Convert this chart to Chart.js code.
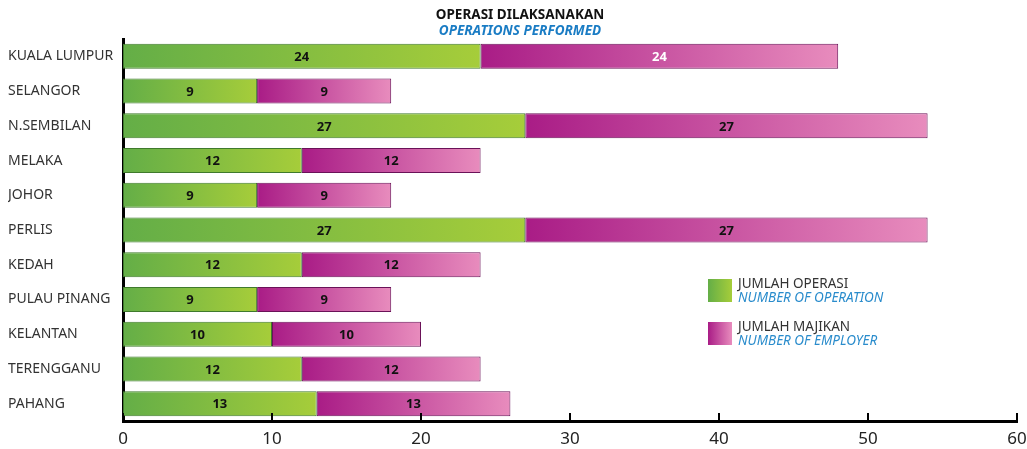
<!DOCTYPE html>
<html>
<head>
<meta charset="utf-8">
<script src="https://cdn.jsdelivr.net/npm/chart.js@4/dist/chart.umd.min.js"></script>
<style>
  html, body { margin: 0; padding: 0; background: #fff; }
  #wrap { width: 1027px; height: 449px; position: relative; }
</style>
</head>
<body>
<div id="wrap"><canvas id="opsChart"></canvas></div>
<script>
// Data
const states = ['KUALA LUMPUR', 'SELANGOR', 'N.SEMBILAN', 'MELAKA', 'JOHOR', 'PERLIS',
  'KEDAH', 'PULAU PINANG', 'KELANTAN', 'TERENGGANU', 'PAHANG'];
const operations = [24, 9, 27, 12, 9, 27, 12, 9, 10, 12, 13];
const employers = [24, 9, 27, 12, 9, 27, 12, 9, 10, 12, 13];
const xTicks = [0, 10, 20, 30, 40, 50, 60];

const FONT = '"Noto Sans", "DejaVu Sans", sans-serif';
const GREEN = ['#64ae47', '#a6cd3a'];
const PINK = ['#a91c86', '#e88cbd'];

// gradient per segment, left to right
function segGradient(c, colors) {
  const chart = c.chart;
  const xs = chart.scales.x;
  if (!xs || c.dataIndex === undefined || c.type !== 'data') return colors[0];
  const i = c.dataIndex;
  const start = c.datasetIndex === 0 ? 0 : operations[i];
  const end = start + c.dataset.data[i];
  const x0 = xs.getPixelForValue(start);
  const x1 = xs.getPixelForValue(end);
  if (!isFinite(x0) || !isFinite(x1) || x0 === x1) return colors[0];
  const g = chart.ctx.createLinearGradient(x0, 0, x1, 0);
  g.addColorStop(0, colors[0]);
  g.addColorStop(1, colors[1]);
  return g;
}

// title, legend, inward ticks, value labels
const decorPlugin = {
  id: 'decor',
  afterDraw(chart) {
    const ctx = chart.ctx;
    const area = chart.chartArea;
    const xs = chart.scales.x;
    ctx.save();

    // title
    ctx.textAlign = 'center';
    ctx.textBaseline = 'middle';
    ctx.fillStyle = '#111';
    ctx.font = 'bold 13.5px ' + FONT;
    ctx.fillText('OPERASI DILAKSANAKAN', 520, 15);
    ctx.fillStyle = '#1a7cc4';
    ctx.font = 'italic bold 13.5px ' + FONT;
    ctx.fillText('OPERATIONS PERFORMED', 520, 31);

    // inward tick marks
    ctx.strokeStyle = '#000';
    ctx.lineWidth = 2;
    xTicks.forEach(v => {
      const px = xs.getPixelForValue(v);
      ctx.beginPath();
      ctx.moveTo(px, area.bottom);
      ctx.lineTo(px, area.bottom - 8);
      ctx.stroke();
    });

    // value labels
    ctx.font = 'bold 13px ' + FONT;
    chart.data.datasets.forEach((ds, di) => {
      chart.getDatasetMeta(di).data.forEach((bar, i) => {
        const cx = (bar.x + bar.base) / 2;
        ctx.fillStyle = (di === 1 && i === 0) ? '#fff' : '#111';
        ctx.fillText(String(ds.data[i]), cx, bar.y + 1);
      });
    });

    // legend
    const items = [
      { y: 279, colors: GREEN, t1: 'JUMLAH OPERASI', t2: 'NUMBER OF OPERATION' },
      { y: 322, colors: PINK, t1: 'JUMLAH MAJIKAN', t2: 'NUMBER OF EMPLOYER' }
    ];
    items.forEach(it => {
      const g = ctx.createLinearGradient(708, 0, 732, 0);
      g.addColorStop(0, it.colors[0]);
      g.addColorStop(1, it.colors[1]);
      ctx.fillStyle = g;
      ctx.fillRect(708, it.y, 24, 23);
      ctx.textAlign = 'left';
      ctx.fillStyle = '#333';
      ctx.font = '13.5px ' + FONT;
      ctx.fillText(it.t1, 738, it.y + 5);
      ctx.fillStyle = '#2a8ccc';
      ctx.font = 'italic 13.5px ' + FONT;
      ctx.fillText(it.t2, 738, it.y + 19);
    });
    ctx.restore();
  }
};

new Chart(document.getElementById('opsChart'), {
  type: 'bar',
  data: {
    labels: states,
    datasets: [
      {
        label: 'JUMLAH OPERASI',
        data: operations,
        backgroundColor: c => segGradient(c, GREEN),
        borderColor: '#3f7a2c',
        borderWidth: 1,
        borderSkipped: false,
        barPercentage: 1,
        categoryPercentage: 0.72
      },
      {
        label: 'JUMLAH MAJIKAN',
        data: employers,
        backgroundColor: c => segGradient(c, PINK),
        borderColor: '#6a1258',
        borderWidth: 1,
        borderSkipped: false,
        barPercentage: 1,
        categoryPercentage: 0.72
      }
    ]
  },
  options: {
    indexAxis: 'y',
    responsive: true,
    maintainAspectRatio: false,
    animation: false,
    layout: { padding: { top: 39, left: 8, right: 10, bottom: 0 } },
    plugins: {
      legend: { display: false },
      tooltip: { enabled: false }
    },
    scales: {
      x: {
        stacked: true,
        min: 0,
        max: 60,
        afterBuildTicks: s => { s.ticks = xTicks.map(v => ({ value: v })); },
        afterFit: s => { s.height = 28; s.paddingLeft = 0; s.paddingRight = 0; },
        grid: { display: false, drawTicks: false },
        border: { display: true, color: '#000', width: 3 },
        ticks: {
          padding: 8,
          color: '#222',
          font: { family: FONT, size: 17 }
        }
      },
      y: {
        stacked: true,
        afterFit: s => { s.width = 115; },
        grid: { display: false, drawTicks: false },
        border: { display: true, color: '#000', width: 3 },
        ticks: {
          crossAlign: 'far',
          padding: 6,
          color: '#333',
          font: { family: FONT, size: 14 }
        }
      }
    }
  },
  plugins: [decorPlugin]
});
</script>
</body>
</html>
